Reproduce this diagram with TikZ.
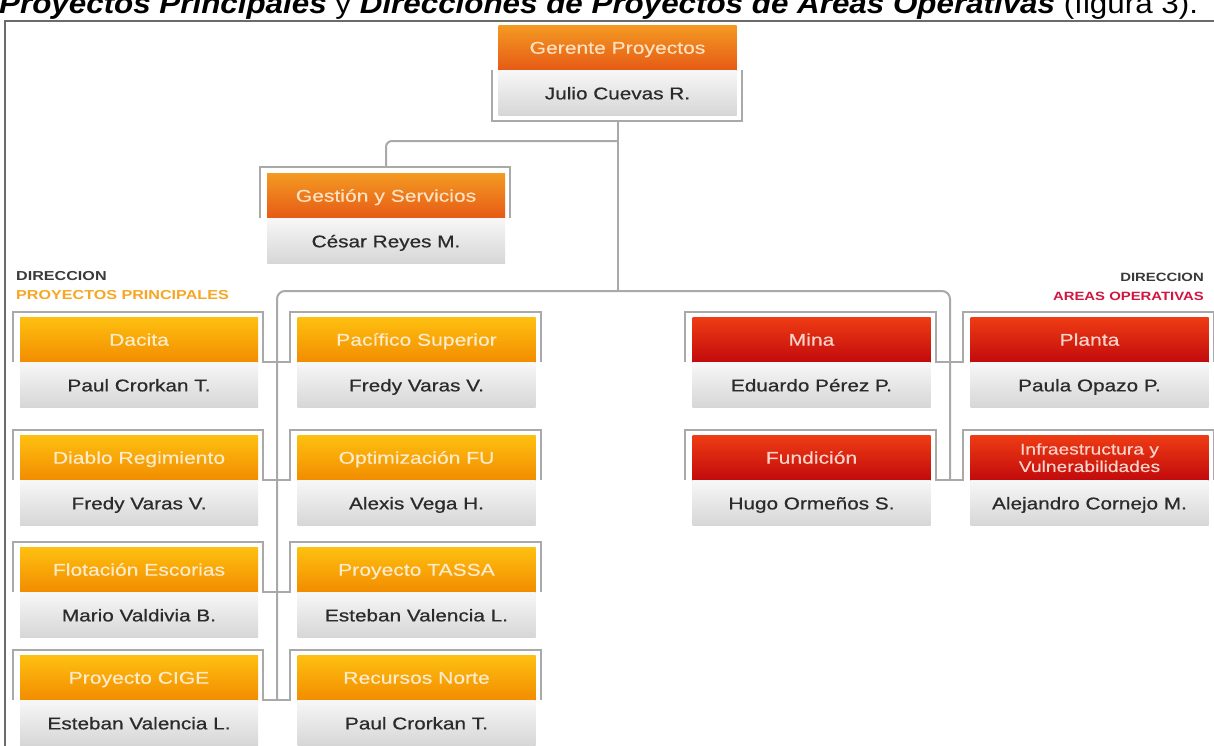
\documentclass[tikz,border=0pt]{standalone}
\usepackage{fontspec}
\setmainfont{Liberation Sans}
\newfontfamily\boxfont{Liberation Sans}[FakeStretch=1.24]
\newfontfamily\headfont{Liberation Sans}[FakeStretch=1.24, FakeBold=0.4]
\newfontfamily\namefont{Liberation Sans}[FakeStretch=1.22, FakeBold=0.7]
\newfontfamily\captionfont{Liberation Sans}[FakeStretch=1.1]
\usetikzlibrary{positioning}

\definecolor{ornTop}{HTML}{F49A22}
\definecolor{ornBot}{HTML}{E65A16}
\definecolor{yelTop}{HTML}{FEC010}
\definecolor{yelBot}{HTML}{F28C00}
\definecolor{redTop}{HTML}{EF3C14}
\definecolor{redBot}{HTML}{C20A0C}
\definecolor{bodyTop}{HTML}{F7F7F7}
\definecolor{bodyBot}{HTML}{D6D6D6}
\definecolor{linkGray}{HTML}{A9A9A9}
\definecolor{frameGray}{HTML}{6B6B6B}
\definecolor{nameInk}{HTML}{2B2B2B}
\definecolor{ornInk}{HTML}{FCE2C2}
\definecolor{yelInk}{HTML}{FDEBCB}
\definecolor{redInk}{HTML}{FAD3C9}
\definecolor{ppOrange}{HTML}{F6A623}
\definecolor{aoRed}{HTML}{D1173F}
\definecolor{dirGray}{HTML}{3A3A3A}

\tikzset{
  hdr/.style={rectangle, minimum width=238pt, minimum height=45pt, inner sep=0pt,
    anchor=north, text height=15pt, text depth=3pt,
    font=\headfont\fontsize{17}{19}\selectfont},
  hdrO/.style={hdr, top color=ornTop, bottom color=ornBot, text=ornInk},
  hdrY/.style={hdr, top color=yelTop, bottom color=yelBot, text=yelInk},
  hdrR/.style={hdr, top color=redTop, bottom color=redBot, text=redInk},
  hdrR2/.style={hdrR, text height=, text depth=},
  namebox/.style={rectangle, minimum width=238pt, minimum height=45pt, inner sep=0pt,
    anchor=north, top color=bodyTop, bottom color=bodyBot, text=nameInk,
    text height=15.5pt, text depth=3pt,
    font=\namefont\fontsize{17}{19}\selectfont},
  link/.style={draw=linkGray, line width=2pt},
  dirlabel/.style={inner sep=0pt, font=\boxfont\bfseries\fontsize{13}{13}\selectfont},
}

% unit: header node #1 and name node #1n
\newcommand\orgunit[6]{%
  \node[#4] (#1) at (#2,#3) {#5};
  \node[namebox] (#1n) at (#1.south) {#6};}

% two bracketed headers joined along their lower edge
\newcommand\pairlink[2]{%
  \draw[link] ([xshift=-7pt]#1.south west) -- ([xshift=-7pt,yshift=5pt]#1.north west)
    -- ([xshift=5pt,yshift=5pt]#1.north east) -- ([xshift=5pt]#1.south east)
    -- ([xshift=-7pt]#2.south west) -- ([xshift=-7pt,yshift=5pt]#2.north west)
    -- ([xshift=5pt,yshift=5pt]#2.north east) -- ([xshift=5pt]#2.south east);}

\begin{document}
\begin{tikzpicture}[x=1pt,y=-1pt]
\useasboundingbox (0,0) rectangle (1214,745);
\clip (0,0) rectangle (1214,745);
\fill[white] (0,0) rectangle (1214,745);

% caption line above the frame
\node[anchor=base west, inner sep=0pt, font=\captionfont\fontsize{28.5}{28.5}\selectfont] (caption) at (-1,13)
  {\textbf{\textit{Proyectos Principales}} y \textbf{\textit{Direcciones de Proyectos de Areas Operativas}} (figura 3).};

% frame
\draw[frameGray, line width=2.5pt] (5,746) -- (5,21) -- (1215,21);

% top levels
\orgunit{gere}{617.5}{25}{hdrO}{Gerente Proyectos}{Julio Cuevas R.}
\orgunit{gest}{386}{173}{hdrO}{Gestión y Servicios}{César Reyes M.}

% section labels
\node[dirlabel, anchor=base west, text=dirGray] (dirL) at (16,280) {DIRECCION};
\node[dirlabel, anchor=base west, text=ppOrange] (ppL) at (16,299) {PROYECTOS PRINCIPALES};
\node[dirlabel, anchor=base east, text=dirGray, font=\boxfont\bfseries\fontsize{12}{12}\selectfont] (dirR) at (1204,281) {DIRECCION};
\node[dirlabel, anchor=base east, text=aoRed, font=\boxfont\bfseries\fontsize{12}{12}\selectfont] (aoR) at (1204,300) {AREAS OPERATIVAS};

% main projects
\orgunit{dac}{139}{317}{hdrY}{Dacita}{Paul Crorkan T.}
\orgunit{pac}{416.5}{317}{hdrY}{Pacífico Superior}{Fredy Varas V.}
\orgunit{dia}{139}{435}{hdrY}{Diablo Regimiento}{Fredy Varas V.}
\orgunit{opt}{416.5}{435}{hdrY}{Optimización FU}{Alexis Vega H.}
\orgunit{flo}{139}{547}{hdrY}{Flotación Escorias}{Mario Valdivia B.}
\orgunit{tas}{416.5}{547}{hdrY}{Proyecto TASSA}{Esteban Valencia L.}
\orgunit{cig}{139}{655}{hdrY}{Proyecto CIGE}{Esteban Valencia L.}
\orgunit{rec}{416.5}{655}{hdrY}{Recursos Norte}{Paul Crorkan T.}

% operational areas
\orgunit{mina}{811.5}{317}{hdrR}{Mina}{Eduardo Pérez P.}
\orgunit{pla}{1089.5}{317}{hdrR}{Planta}{Paula Opazo P.}
\orgunit{fun}{811.5}{435}{hdrR}{Fundición}{Hugo Ormeños S.}
\orgunit{inf}{1089.5}{435}{hdrR2}{\fontsize{15.5}{14.5}\selectfont\shortstack{Infraestructura y\\Vulnerabilidades}}{Alejandro Cornejo M.}

% manager tray and drop line
\draw[link] ([xshift=-6pt]gere.south west) -- ([xshift=-6pt,yshift=-5pt]geren.south west)
  -- ([xshift=5pt,yshift=-5pt]geren.south east) -- ([xshift=5pt]gere.south east);
\coordinate (gU) at ([yshift=-5pt]geren.south);
\coordinate (hub) at (gU |- 0,291);
\draw[link] (gU) -- (hub);

% staff unit
\draw[link] ([xshift=-7pt]gest.south west) -- ([xshift=-7pt,yshift=6pt]gest.north west)
  -- ([xshift=5pt,yshift=6pt]gest.north east) -- ([xshift=5pt]gest.south east);
\coordinate (gsTop) at ([yshift=6pt]gest.north);
\coordinate (gsJoin) at (gU |- 0,141);
\draw[link, rounded corners=6pt] (gsJoin) -| (gsTop);

% distribution bar and trunks
\coordinate (trL) at (277,291);
\coordinate (trR) at (950,291);
\draw[link, rounded corners=8pt] (trL |- rec.south) -- (trL) -- (trR) -- (trR |- inf.south);

\pairlink{dac}{pac}
\pairlink{dia}{opt}
\pairlink{flo}{tas}
\pairlink{cig}{rec}
\pairlink{mina}{pla}
\pairlink{fun}{inf}
\end{tikzpicture}
\end{document}
